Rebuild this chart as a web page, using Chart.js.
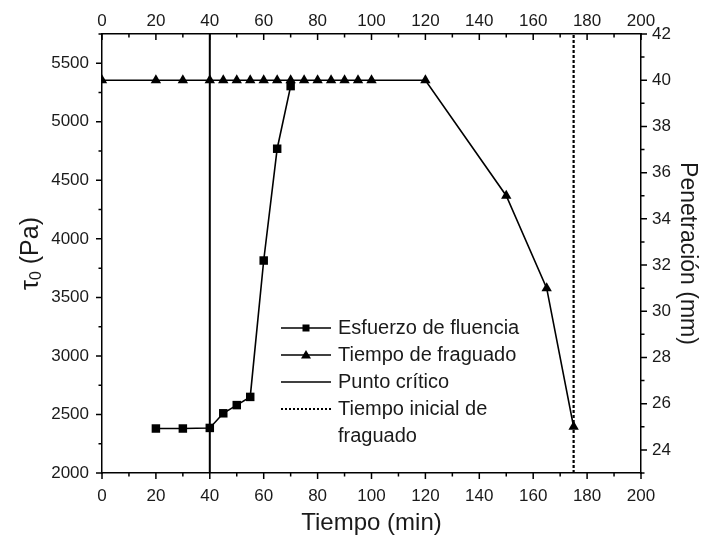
<!DOCTYPE html>
<html><head><meta charset="utf-8">
<script src="https://cdn.jsdelivr.net/npm/chart.js@4/dist/chart.umd.min.js"></script>
<style>html,body{margin:0;padding:0;background:#fff}#wrap{width:701px;height:546px}</style>
</head><body><div id="wrap"><canvas id="c" width="701" height="546"></canvas></div>
<script>
// ---- data ----
const timeTicks = [0,20,40,60,80,100,120,140,160,180,200];
const stressTicks = [2000,2500,3000,3500,4000,4500,5000,5500];
const penTicks = [24,26,28,30,32,34,36,38,40,42];
const timeRange = [0,200];
const stressRange = [2000,5750];
const penRange = [23,42];

const stressTime   = [20,30,40,45,50,55,60,65,70];
const stressValues = [2380,2380,2385,2510,2580,2650,3815,4770,5305];

const setTime   = [0,20,30,40,45,50,55,60,65,70,75,80,85,90,95,100,120,150,165,175];
const setValues = [40,40,40,40,40,40,40,40,40,40,40,40,40,40,40,40,40,35,31,25];

const criticalTime = 40;
const initialSetTime = 175;

const legendLabels = ['Esfuerzo de fluencia','Tiempo de fraguado','Punto crítico',['Tiempo inicial de','fraguado']];

// ---- build ----
const FONT = "'Liberation Sans', Arial, sans-serif";
const TXT = '#1a1a1a';

const toXY = (xs, ys) => xs.map((x,i)=>({x:x,y:ys[i]}));
const fixTicks = (list) => (scale) => { scale.ticks = list.map(v=>({value:v})); };
const plain = (v) => String(v);

const axisPlugin = {
  id:'axisExtras',
  afterDraw(chart){
    const ctx = chart.ctx;
    const a = chart.chartArea;
    const sx = chart.scales.x, sy = chart.scales.y, sy2 = chart.scales.y2;
    ctx.save();
    ctx.strokeStyle = '#000';
    ctx.lineWidth = 1.5;
    ctx.beginPath();
    for (let v = timeRange[0]; v <= timeRange[1]; v += 10) {
      const px = sx.getPixelForValue(v);
      const len = (v % 20 === 0) ? 6 : 3.5;
      ctx.moveTo(px, a.bottom); ctx.lineTo(px, a.bottom + len);
      ctx.moveTo(px, a.top); ctx.lineTo(px, a.top + len);
    }
    for (let v = stressRange[0]; v <= stressRange[1]; v += 250) {
      const py = sy.getPixelForValue(v);
      const len = (v % 500 === 0) ? 6 : 3.5;
      ctx.moveTo(a.left - len, py); ctx.lineTo(a.left, py);
    }
    for (let v = penRange[0]; v <= penRange[1]; v += 1) {
      const py = sy2.getPixelForValue(v);
      const len = (v % 2 === 0) ? 6 : 3.5;
      ctx.moveTo(a.right, py); ctx.lineTo(a.right + len, py);
    }
    ctx.stroke();

    // left title: tau_0 (Pa)
    ctx.fillStyle = TXT;
    const big = "25px " + FONT, small = "16px " + FONT;
    ctx.font = big; const w1 = ctx.measureText('\u03C4').width;
    ctx.font = small; const w2 = ctx.measureText('0').width;
    ctx.font = big; const w3 = ctx.measureText(' (Pa)').width;
    const total = w1 + w2 + w3;
    ctx.translate(31, (a.top + a.bottom)/2);
    ctx.rotate(-Math.PI/2);
    ctx.textBaseline = 'middle';
    ctx.textAlign = 'left';
    let cx = -total/2;
    ctx.font = big; ctx.fillText('\u03C4', cx, 0); cx += w1;
    ctx.font = small; ctx.fillText('0', cx, 6); cx += w2;
    ctx.font = big; ctx.fillText(' (Pa)', cx, 0);
    ctx.restore();

    // legend
    ctx.save();
    const lx0 = 281, lx1 = 331, tx = 338;
    const rows = [328, 355, 382, 409];
    ctx.strokeStyle = '#000';
    ctx.fillStyle = '#000';
    rows.forEach((ry, i) => {
      ctx.beginPath();
      if (i === 3) { ctx.setLineDash([2,2]); ctx.lineWidth = 2; }
      else { ctx.setLineDash([]); ctx.lineWidth = 1.5; }
      ctx.moveTo(lx0, ry); ctx.lineTo(lx1, ry); ctx.stroke();
      ctx.setLineDash([]);
      const mx = (lx0 + lx1)/2;
      if (i === 0) { ctx.fillRect(mx-3.5, ry-3.5, 7, 7); }
      if (i === 1) { ctx.beginPath(); ctx.moveTo(mx, ry-5); ctx.lineTo(mx+5, ry+3.5); ctx.lineTo(mx-5, ry+3.5); ctx.closePath(); ctx.fill(); }
    });
    ctx.fillStyle = TXT;
    ctx.font = "20px " + FONT;
    ctx.textBaseline = 'middle';
    ctx.textAlign = 'left';
    legendLabels.forEach((lab, i) => {
      if (Array.isArray(lab)) {
        lab.forEach((s, j) => ctx.fillText(s, tx, rows[i] + j*27.5));
      } else ctx.fillText(lab, tx, rows[i]);
    });
    ctx.restore();
  }
};

const tickFont = { family: FONT, size: 17 };

new Chart(document.getElementById('c'), {
  type: 'line',
  data: {
    datasets: [
      { label:'Esfuerzo de fluencia', data: toXY(stressTime, stressValues), xAxisID:'x', yAxisID:'y',
        borderColor:'#000', backgroundColor:'#000', borderWidth:1.6, pointStyle:'rect', pointRadius:6,
        pointBorderWidth:0, tension:0 },
      { label:'Tiempo de fraguado', data: toXY(setTime, setValues), xAxisID:'x', yAxisID:'y2',
        borderColor:'#000', backgroundColor:'#000', borderWidth:1.6, pointStyle:'triangle', pointRadius:6,
        pointBorderWidth:0, tension:0 },
      { label:'Punto crítico', data: [{x:criticalTime,y:stressRange[0]},{x:criticalTime,y:stressRange[1]}],
        xAxisID:'x', yAxisID:'y', borderColor:'#000', borderWidth:2, pointRadius:0 },
      { label:'Tiempo inicial de fraguado', data: [{x:initialSetTime,y:stressRange[0]},{x:initialSetTime,y:stressRange[1]}],
        xAxisID:'x', yAxisID:'y', borderColor:'#000', borderWidth:2.2, borderDash:[3,2], pointRadius:0 }
    ]
  },
  options: {
    responsive:false, animation:false, devicePixelRatio:1,
    layout:{ padding:0 },
    plugins:{ legend:{display:false}, tooltip:{enabled:false} },
    scales:{
      x:{ type:'linear', position:'bottom', min:timeRange[0], max:timeRange[1],
        afterBuildTicks: fixTicks(timeTicks), afterFit(s){ s.height = 73; },
        grid:{ display:true, drawOnChartArea:false, drawTicks:false },
        border:{ display:true, color:'#000', width:1.5 },
        ticks:{ font:tickFont, color:TXT, padding:13, maxRotation:0, autoSkip:false, callback:plain },
        title:{ display:true, text:'Tiempo (min)', font:{family:FONT, size:24}, color:TXT, padding:{top:0,bottom:8} } },
      x2:{ type:'linear', position:'top', min:timeRange[0], max:timeRange[1],
        afterBuildTicks: fixTicks(timeTicks), afterFit(s){ s.height = 34; },
        grid:{ display:true, drawOnChartArea:false, drawTicks:false },
        border:{ display:true, color:'#000', width:1.5 },
        ticks:{ font:tickFont, color:TXT, padding:2, maxRotation:0, autoSkip:false, callback:plain } },
      y:{ type:'linear', position:'left', min:stressRange[0], max:stressRange[1],
        afterBuildTicks: fixTicks(stressTicks), afterFit(s){ s.width = 102; },
        grid:{ display:true, drawOnChartArea:false, drawTicks:false },
        border:{ display:true, color:'#000', width:1.5 },
        ticks:{ font:tickFont, color:TXT, padding:13, autoSkip:false, callback:plain } },
      y2:{ type:'linear', position:'right', min:penRange[0], max:penRange[1],
        afterBuildTicks: fixTicks(penTicks), afterFit(s){ s.width = 60; },
        grid:{ display:true, drawOnChartArea:false, drawTicks:false },
        border:{ display:true, color:'#000', width:1.5 },
        ticks:{ font:tickFont, color:TXT, padding:11, autoSkip:false, callback:plain },
        title:{ display:true, text:'Penetración (mm)', font:{family:FONT, size:23}, color:TXT, padding:{top:0,bottom:0} } }
    }
  },
  plugins:[axisPlugin]
});
</script>
</body></html>
